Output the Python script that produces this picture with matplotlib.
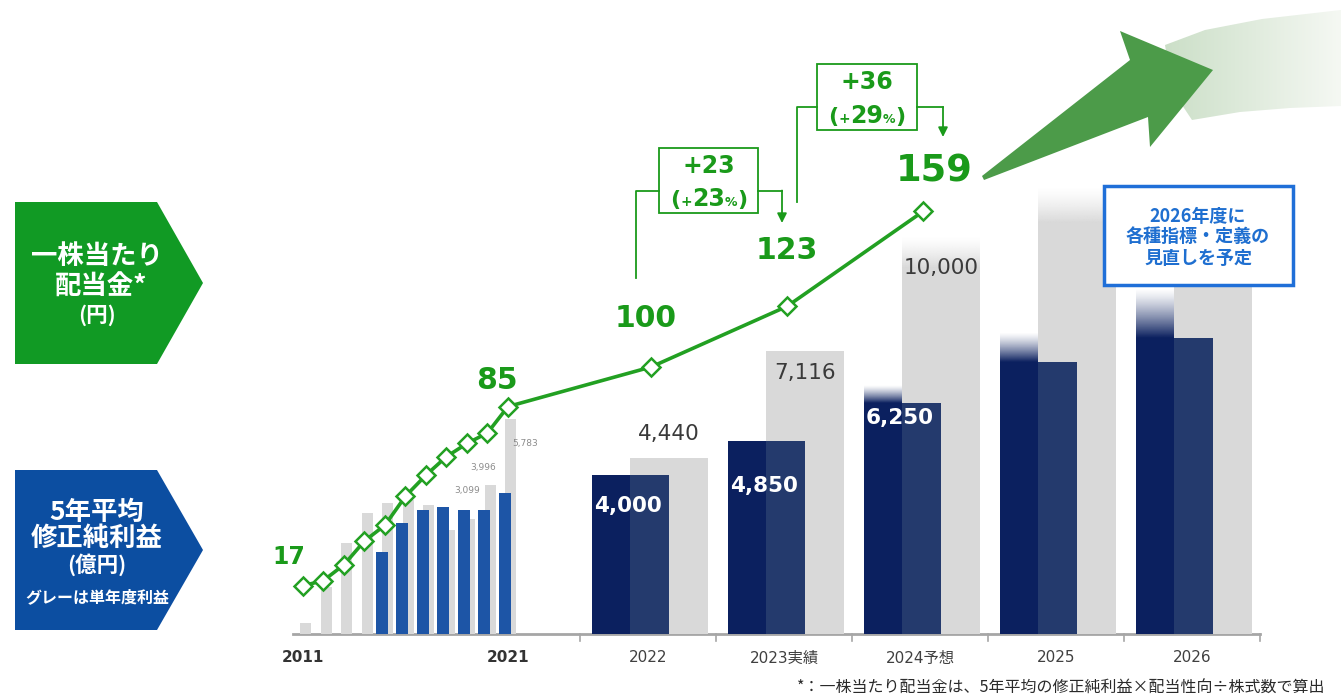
import numpy as np
import matplotlib.pyplot as plt
from matplotlib.patches import Polygon, Rectangle
from matplotlib.colors import to_rgb

plt.rcParams['font.family'] = ['DejaVu Sans', 'Noto Sans CJK JP']

W, H = 1341, 697

# ---- data ----
small_years = np.arange(2011, 2022)
small_single = [300, 1260, 2450, 3250, 3520, 3600, 3470, 2800, 3099, 3996, 5783]
small_avg = [np.nan] * 4 + [2200, 2980, 3320, 3410, 3320, 3320, 3790]
small_labeled = [8, 9, 10]          # single-year values printed on the chart

big_labels = ['2022', '2023実績', '2024予想', '2025', '2026']
big_avg = [4000, 4850, 6250, 7600, 8700]
big_single = [4440, 7116, 10000, 11250, 11000]
n_big_labeled = 3

dividend_small = [17, 19, 25, 34, 40, 51, 59, 66, 71, 75, 85]
dividend_big = [100, 123, 159]

# ---- layout / styles ----
BASE = 634                      # pixel row of the baseline
PX_BIG, PX_SMALL = 0.03975, 0.0372
PX_YEN, YEN_ZERO = 2.636, 630.6
x_small = 303 + 20.5 * np.arange(len(small_years))
x_big = 648 + 136 * np.arange(len(big_labels))
fade_single = [0, 0, 800, 900, 900]
fade_avg = [0, 0, 450, 750, 1250]

GREEN = '#1a9a1a'
LINE_GREEN = '#22a022'
NAVY_D, NAVY_L = '#0b205f', '#243a6d'
BLUE = '#1d55a6'
GRAY = '#d9d9d9'
JP = ['Noto Sans CJK JP', 'DejaVu Sans']

fig = plt.figure(figsize=(W / 100, H / 100), dpi=100)


def make_axes(z):
    a = fig.add_axes([0, 0, 1, 1], zorder=z)
    a.axis('off')
    a.patch.set_alpha(0)
    return a


canvas = make_axes(0)
ax_s = make_axes(1)
ax_b = make_axes(1.5)
ax_l = make_axes(2)
ov = make_axes(3)


def set_limits():
    for a in (canvas, ov):
        a.set_xlim(0, W)
        a.set_ylim(H, 0)
    for a, s, z in ((ax_s, PX_SMALL, BASE), (ax_b, PX_BIG, BASE), (ax_l, PX_YEN, YEN_ZERO)):
        a.set_xlim(0, W)
        a.set_ylim(-(H - z) / s, z / s)


set_limits()


def grad_bar(ax, xc, width, h, fade, color):
    ax.bar(xc, h - fade, width=width, color=color, linewidth=0)
    if fade > 0:
        rgba = np.zeros((80, 1, 4))
        rgba[..., :3] = to_rgb(color)
        rgba[:, 0, 3] = np.linspace(1, 0, 80) ** 1.3
        ax.imshow(rgba, extent=(xc - width / 2, xc + width / 2, h - fade, h),
                  origin='lower', aspect='auto', interpolation='bilinear')


# ---- background decoration: pentagons, big arrow ----
canvas.add_patch(Polygon([(15, 202), (157, 202), (203, 283), (157, 364), (15, 364)],
                         closed=True, color='#119a24', lw=0))
canvas.add_patch(Polygon([(15, 470), (157, 470), (203, 550), (157, 630), (15, 630)],
                         closed=True, color='#0c4ea1', lw=0))

swoosh = Polygon([(1165, 45), (1205, 30), (1262, 19), (1341, 10), (1341, 106),
                  (1290, 108), (1240, 112), (1192, 120), (1172, 90)],
                 closed=True, facecolor='none', edgecolor='none')
canvas.add_patch(swoosh)
grad = np.zeros((2, 100, 3))
c0, c1 = np.array([200, 221, 196]) / 255, np.array([245, 248, 243]) / 255
grad[:] = c0 + (c1 - c0) * np.linspace(0, 1, 100)[None, :, None]
im = canvas.imshow(grad, extent=(1150, 1341, 125, 5), aspect='auto', interpolation='bilinear')
im.set_clip_path(swoosh)

canvas.add_patch(Polygon([(982, 176), (1130, 60), (1120, 31), (1213, 70), (1150, 147),
                          (1148, 117), (984, 180)], closed=True, color='#4c9b49', lw=0))

# axis line and separators
canvas.plot([293, x_big[-1] + 68], [BASE, BASE], color='#a6a6a6', lw=2)
for xs in list(x_big - 68) + [x_big[-1] + 68]:
    canvas.plot([xs, xs], [BASE, BASE + 7], color='#a6a6a6', lw=1.2)

# ---- bars 2011-2021 ----
ax_s.bar(x_small + 3, small_single, width=11, color=GRAY, linewidth=0)
avg = np.array(small_avg)
ok = ~np.isnan(avg)
ax_s.bar(x_small[ok] - 3, avg[ok], width=12, color=BLUE, linewidth=0)
small_off = {8: (-2, 20), 9: (-5, 13), 10: (10, -18)}
for i in small_labeled:
    ax_s.annotate(f'{small_single[i]:,}', (x_small[i] + 3, small_single[i]),
                  xytext=small_off[i], textcoords='offset points',
                  ha='center', va='center', fontsize=6.5, color='#8c8c8c')

# ---- bars 2022-2026 ----
for i in range(len(big_labels)):
    grad_bar(ax_b, x_big[i] + 21, 78, big_single[i], fade_single[i], GRAY)
    grad_bar(ax_b, x_big[i] - 36.75, 38.5, big_avg[i], fade_avg[i], NAVY_D)
    grad_bar(ax_b, x_big[i] + 1.75, 38.5, big_avg[i], fade_avg[i], NAVY_L)

single_off = [17, -16, -23]
avg_off = [-22, -32, -23]
for i in range(n_big_labeled):
    ax_b.annotate(f'{big_single[i]:,}', (x_big[i] + 21, big_single[i]),
                  xytext=(0, single_off[i]), textcoords='offset points',
                  ha='center', va='center', fontsize=15.5, color='#3a3a3a')
    ax_b.annotate(f'{big_avg[i]:,}', (x_big[i] - 17.5, big_avg[i]),
                  xytext=(-2, avg_off[i]), textcoords='offset points',
                  ha='center', va='center', fontsize=15.5, color='white',
                  fontweight='bold')

# ---- dividend line ----
x_div = np.concatenate([x_small, x_big[:len(dividend_big)] + 3])
div = dividend_small + dividend_big
ax_l.plot(x_div, div, color=LINE_GREEN, lw=2.6, marker='D', ms=9,
          mfc='white', mec=LINE_GREEN, mew=1.8, solid_joinstyle='round')
div_labels = {0: (-10, 21, 17), 10: (-8, 19, 21.5), 11: (-4, 35, 21.5),
              12: (0, 40, 21.5), 13: (8, 29, 26.5)}
for i, (dx, dy, fs) in div_labels.items():
    ax_l.annotate(f'{div[i]}', (x_div[i], div[i]), xytext=(dx, dy),
                  textcoords='offset points', ha='center', va='center',
                  fontsize=fs, fontweight='bold', color=GREEN)

# ---- growth call-outs ----
renderer = fig.canvas.get_renderer()


def pieces(xc, y, parts):
    objs = [ov.text(0, y, s, fontsize=fs, fontweight='bold', color=GREEN, va='baseline')
            for s, fs in parts]
    widths = [o.get_window_extent(renderer).width for o in objs]
    x = xc - sum(widths) / 2
    for o, w in zip(objs, widths):
        o.set_x(x)
        x += w


def callout(box, left_from, right_to, a, b):
    x0, y0, x1, y1 = box
    ym = (y0 + y1) / 2 + 10
    ov.add_patch(Rectangle((x0, y0), x1 - x0, y1 - y0, fill=False, ec=GREEN, lw=1.3))
    ov.plot([left_from[0], left_from[0], x0], [left_from[1], ym, ym], color=GREEN, lw=1.3)
    ov.plot([x1, right_to[0]], [ym, ym], color=GREEN, lw=1.3)
    ov.annotate('', xy=right_to, xytext=(right_to[0], ym),
                arrowprops=dict(arrowstyle='-|>', color=GREEN, lw=1.3, mutation_scale=14,
                                shrinkA=0, shrinkB=0))
    diff = b - a
    pct = round(diff / a * 100)
    xc = (x0 + x1) / 2
    ov.text(xc, y0 + 18, f'+{diff}', fontsize=17, fontweight='bold', color=GREEN,
            ha='center', va='center')
    pieces(xc, y1 - 7, [('(', 16), ('+', 10), (str(pct), 17), ('%', 9), (')', 16)])


callout((659, 148, 758, 213), (636, 278), (782, 223), dividend_big[0], dividend_big[1])
callout((817, 64, 917, 130), (797, 202), (943, 137), dividend_big[1], dividend_big[2])

# ---- note box ----
ov.add_patch(Rectangle((1104, 186), 189, 99, facecolor='white', edgecolor='#1f6fd8', lw=2.5))
for k, line in enumerate(['2026年度に', '各種指標・定義の', '見直しを予定']):
    ov.text(1198, 216 + 21 * k, line, fontsize=13, fontweight='bold', color='#1f6fd0',
            ha='center', va='center', family=JP)

# ---- pentagon texts ----
for txt, x, y, fs in [('一株当たり', 97, 257, 19), ('配当金*', 101, 287, 19),
                      ('(円)', 97, 315, 15.5)]:
    ov.text(x, y, txt, fontsize=fs, fontweight='bold', color='white',
            ha='center', va='center', family=JP)
for txt, y, fs in [('5年平均', 512, 19), ('修正純利益', 538, 19), ('(億円)', 565, 15.5),
                   ('グレーは単年度利益', 597, 11.5)]:
    ov.text(97, y, txt, fontsize=fs, fontweight='bold', color='white',
            ha='center', va='center', family=JP)

# ---- x labels ----
for i in (0, len(small_years) - 1):
    ov.text(x_small[i], 658, str(small_years[i]), fontsize=11, color='#333333',
            ha='center', va='center', fontweight='bold')
for i, lab in enumerate(big_labels):
    ov.text(x_big[i], 658, lab, fontsize=11, color='#404040', ha='center', va='center')

ov.text(1325, 688, '*：一株当たり配当金は、5年平均の修正純利益×配当性向÷株式数で算出',
        fontsize=11.5, color='#2a2a2a', ha='right', va='center', family=JP)

set_limits()
fig.savefig('out.png', dpi=100)
